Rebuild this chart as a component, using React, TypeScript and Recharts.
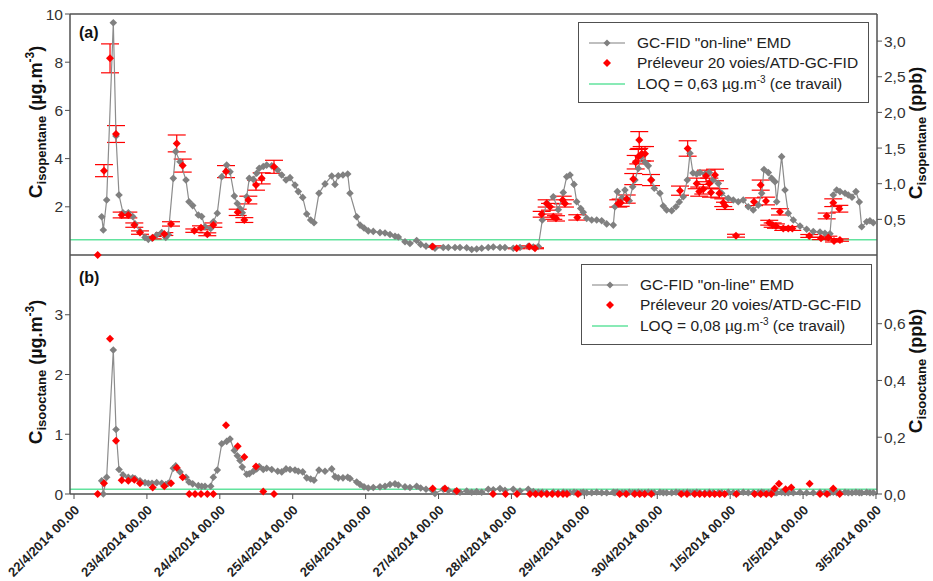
import React from 'react'
import { ComposedChart, Scatter, XAxis, YAxis, ReferenceLine, ErrorBar } from 'recharts'

// x values are days since 22/4/2014 00.00
const dayTicks = [0, 1, 2, 3, 4, 5, 6, 7, 8, 9, 10, 11]
const dayLabels = [
  '22/4/2014 00.00', '23/4/2014 00.00', '24/4/2014 00.00', '25/4/2014 00.00',
  '26/4/2014 00.00', '27/4/2014 00.00', '28/4/2014 00.00', '29/4/2014 00.00',
  '30/4/2014 00.00', '1/5/2014 00.00', '2/5/2014 00.00', '3/5/2014 00.00',
]

// GC-FID "on-line" EMD
const onlineTime = [
  0.380, 0.402, 0.448, 0.539, 0.576, 0.617, 0.672, 0.745, 0.805, 0.837,
  0.905, 0.974, 1.019, 1.070, 1.134, 1.203, 1.258, 1.293, 1.362, 1.395,
  1.454, 1.536, 1.577, 1.628, 1.705, 1.751, 1.797, 1.875, 1.911, 1.965,
  2.026, 2.094, 2.140, 2.199, 2.240, 2.277, 2.308, 2.369, 2.404, 2.459,
  2.506, 2.541, 2.596, 2.643, 2.712, 2.794, 2.849, 2.908, 2.963, 3.031,
  3.076, 3.137, 3.192, 3.246, 3.292, 3.360, 3.443, 3.535, 3.580, 3.625,
  3.689, 3.754, 3.785, 3.877, 3.923, 3.978, 4.036, 4.105, 4.197, 4.266,
  4.334, 4.403, 4.448, 4.540, 4.608, 4.700, 4.755, 4.828, 4.906, 4.951,
  5.065, 5.134, 5.226, 5.294, 5.386, 5.455, 5.523, 5.592, 5.682, 5.751,
  5.843, 5.911, 6.025, 6.117, 6.231, 6.300, 6.368, 6.423, 6.483, 6.574,
  6.642, 6.711, 6.758, 6.803, 6.858, 6.895, 6.950, 6.985, 7.032, 7.101,
  7.169, 7.238, 7.306, 7.397, 7.420, 7.452, 7.516, 7.557, 7.616, 7.663,
  7.694, 7.740, 7.786, 7.832, 7.877, 7.923, 7.959, 8.037, 8.083, 8.129,
  8.198, 8.257, 8.302, 8.357, 8.412, 8.449, 8.490, 8.541, 8.586, 8.654,
  8.714, 8.768, 8.837, 8.884, 8.974, 9.043, 9.111, 9.180, 9.248, 9.317,
  9.386, 9.432, 9.464, 9.523, 9.569, 9.615, 9.638, 9.706, 9.752, 9.797,
  9.866, 9.958, 10.049, 10.140, 10.232, 10.300, 10.369, 10.414, 10.461, 10.506,
  10.575, 10.620, 10.671, 10.725, 10.771, 10.804, 10.872, 10.917, 10.963,
]
const isopentaneOnline = [
  1.59, 1.04, 2.28, 9.64, 4.94, 2.49, 1.75, 1.75, 1.6, 1.29,
  0.98, 0.73, 0.65, 0.7, 0.83, 0.93, 0.73, 0.85, 3.18, 4.29,
  3.87, 3.11, 2.21, 2.05, 1.66, 1.6, 1.17, 1.1, 1.38, 1.73,
  3.25, 3.73, 3.45, 2.45, 2.14, 1.93, 1.75, 2.42, 3.18, 3.14,
  3.39, 3.6, 3.67, 3.73, 3.7, 3.53, 3.32, 3.11, 3.21, 2.9,
  2.63, 2.39, 1.7, 1.45, 1.34, 2.56, 2.95, 3.28, 2.93, 3.29,
  3.32, 3.36, 2.56, 1.59, 1.24, 1.12, 1.0, 0.98, 0.93, 0.91,
  0.85, 0.78, 0.75, 0.55, 0.48, 0.6, 0.44, 0.37, 0.35, 0.28,
  0.31, 0.31, 0.31, 0.31, 0.3, 0.23, 0.25, 0.28, 0.31, 0.33,
  0.31, 0.31, 0.28, 0.31, 0.36, 0.33, 0.35, 1.45, 2.14, 2.42,
  1.88, 2.59, 3.25, 3.32, 2.93, 2.21, 1.93, 1.77, 1.52, 1.45,
  1.45, 1.42, 1.29, 1.24, 2.0, 2.63, 2.36, 2.7, 2.25, 2.83,
  3.11, 3.59, 4.08, 3.85, 3.7, 3.11, 2.77, 2.56, 2.03, 1.87,
  1.84, 2.0, 2.2, 2.42, 3.11, 4.22, 3.4, 3.36, 3.42, 3.36,
  3.42, 3.11, 2.97, 2.56, 2.35, 2.28, 2.21, 2.28, 2.0, 1.87,
  2.07, 2.56, 3.55, 3.42, 3.18, 3.04, 2.21, 4.08, 2.7, 1.73,
  1.45, 1.2, 1.07, 0.97, 0.95, 0.9, 0.88, 2.49, 2.7, 2.63,
  2.56, 2.49, 2.4, 2.63, 2.2, 1.17, 1.38, 1.42, 1.34,
]
const isooctaneOnline = [
  0.22, 0.0, 0.28, 2.41, 1.08, 0.41, 0.32, 0.28, 0.27, 0.26,
  0.22, 0.19, 0.18, 0.18, 0.19, 0.18, 0.16, 0.18, 0.43, 0.47,
  0.37, 0.28, 0.2, 0.17, 0.14, 0.13, 0.13, 0.13, 0.28, 0.4,
  0.84, 0.88, 0.92, 0.73, 0.64, 0.56, 0.45, 0.33, 0.34, 0.38,
  0.42, 0.46, 0.41, 0.43, 0.41, 0.38, 0.37, 0.42, 0.41, 0.4,
  0.38, 0.37, 0.27, 0.25, 0.23, 0.4, 0.38, 0.42, 0.29, 0.27,
  0.27, 0.28, 0.26, 0.2, 0.16, 0.12, 0.1, 0.11, 0.12, 0.13,
  0.16, 0.17, 0.15, 0.12, 0.11, 0.13, 0.1, 0.08, 0.07, 0.01,
  0.08, 0.06, 0.04, 0.03, 0.05, 0.03, 0.04, 0.03, 0.08, 0.07,
  0.09, 0.06, 0.08, 0.05, 0.08, 0.04, 0.03, 0.03, 0.02, 0.03,
  0.02, 0.03, 0.02, 0.02, 0.03, 0.02, 0.02, 0.03, 0.02, 0.02,
  0.03, 0.02, 0.02, 0.03, 0.02, 0.03, 0.02, 0.02, 0.03, 0.02,
  0.02, 0.03, 0.02, 0.02, 0.03, 0.02, 0.02, 0.03, 0.02, 0.02,
  0.02, 0.03, 0.02, 0.02, 0.03, 0.02, 0.02, 0.03, 0.02, 0.02,
  0.03, 0.02, 0.02, 0.02, 0.03, 0.02, 0.02, 0.03, 0.02, 0.02,
  0.02, 0.03, 0.02, 0.02, 0.03, 0.02, 0.02, 0.03, 0.02, 0.02,
  0.02, 0.03, 0.02, 0.02, 0.03, 0.02, 0.02, 0.03, 0.02, 0.02,
  0.03, 0.02, 0.02, 0.03, 0.02, 0.02, 0.03, 0.02, 0.02,
]

// Préleveur 20 voies/ATD-GC-FID, panel (a)
const samplerTimeA = [
  0.325, 0.411, 0.494, 0.576, 0.654, 0.745, 0.827, 0.905, 1.079, 1.239,
  1.330, 1.409, 1.491, 1.650, 1.742, 1.828, 1.911, 2.085, 2.245, 2.336,
  2.391, 2.496, 2.574, 2.743, 4.920, 6.072, 6.245, 6.323, 6.415, 6.483,
  6.529, 6.574, 6.611, 6.703, 6.734, 6.903, 7.465, 7.498, 7.581, 7.671,
  7.704, 7.740, 7.753, 7.786, 7.832, 7.914, 8.312, 8.417, 8.541, 8.576,
  8.631, 8.668, 8.714, 8.737, 8.792, 8.851, 8.905, 8.929, 9.080, 9.327,
  9.419, 9.491, 9.536, 9.583, 9.628, 9.683, 9.728, 9.797, 9.852, 10.085,
  10.246, 10.324, 10.346, 10.414, 10.424, 10.497, 10.506,
]
const isopentaneSampler = [
  0, 3.5, 8.16, 5.02, 1.66, 1.66, 1.24, 0.93, 0.72, 0.87,
  1.29, 4.63, 3.71, 1.01, 1.13, 0.86, 1.24, 3.46, 1.77, 1.45,
  2.28, 2.9, 3.18, 3.66, 0.35, 0.28, 0.35, 0.28, 1.69, 2.14,
  2.0, 1.59, 1.52, 2.28, 2.14, 1.56, 2.14, 2.17, 2.32, 3.15,
  3.85, 4.08, 4.77, 4.2, 4.2, 3.11, 2.67, 4.42, 2.97, 2.63,
  2.73, 3.28, 2.97, 2.59, 3.32, 2.56, 2.17, 2.04, 0.8, 2.21,
  2.9, 2.24, 1.34, 1.24, 1.2, 1.79, 1.1, 1.1, 1.1, 0.79,
  0.69, 1.62, 0.73, 2.17, 0.58, 1.92, 0.62,
]
const isopentaneSamplerErr = [
  0, 0.25, 0.6, 0.35, 0.12, 0.12, 0.09, 0.07, 0.05, 0.06,
  0.09, 0.35, 0.27, 0.07, 0.08, 0.06, 0.09, 0.25, 0.13, 0.1,
  0.16, 0.21, 0.23, 0.27, 0.03, 0.02, 0.03, 0.02, 0.12, 0.15,
  0.14, 0.11, 0.11, 0.16, 0.15, 0.11, 0.15, 0.15, 0.17, 0.23,
  0.28, 0.3, 0.35, 0.3, 0.3, 0.23, 0.19, 0.32, 0.22, 0.19,
  0.2, 0.24, 0.22, 0.19, 0.24, 0.19, 0.16, 0.15, 0.06, 0.16,
  0.21, 0.16, 0.1, 0.09, 0.09, 0.13, 0.08, 0.08, 0.08, 0.06,
  0.05, 0.12, 0.05, 0.16, 0.04, 0.14, 0.05,
]

// Préleveur 20 voies/ATD-GC-FID, panel (b)
const samplerTimeB = [
  0.325, 0.411, 0.494, 0.576, 0.654, 0.745, 0.827, 0.905, 1.079, 1.239,
  1.330, 1.409, 1.491, 1.581, 1.660, 1.742, 1.828, 1.911, 2.085, 2.245,
  2.336, 2.496, 2.596, 2.743, 4.920, 5.088, 5.249, 5.747, 5.918, 6.076,
  6.254, 6.332, 6.409, 6.487, 6.560, 6.638, 6.707, 6.762, 6.913, 7.485,
  7.575, 7.690, 7.759, 7.827, 7.918, 8.329, 8.408, 8.513, 8.582, 8.650,
  8.719, 8.788, 8.856, 8.925, 9.084, 9.336, 9.418, 9.495, 9.564, 9.610,
  9.669, 9.761, 9.838, 10.090, 10.232, 10.328, 10.414, 10.502,
]
const isooctaneSampler = [
  0, 0.18, 2.6, 0.89, 0.23, 0.22, 0.24, 0.18, 0.11, 0.13,
  0.18, 0.44, 0.28, 0, 0, 0, 0, 0, 1.15, 0.8,
  0.62, 0.46, 0.04, 0, 0.09, 0.09, 0.05, 0, 0, 0,
  0, 0, 0, 0, 0, 0, 0, 0, 0, 0,
  0, 0, 0, 0, 0, 0, 0, 0, 0, 0,
  0, 0, 0, 0, 0, 0, 0, 0, 0, 0.09,
  0.17, 0.08, 0.11, 0.17, 0, 0, 0.09, 0,
]

const loqIsopentane = 0.63
const loqIsooctane = 0.08

const onlineA = onlineTime.map((t, i) => ({ t, v: isopentaneOnline[i] }))
const onlineB = onlineTime.map((t, i) => ({ t, v: isooctaneOnline[i] }))
const samplerA = samplerTimeA.map((t, i) => ({ t, v: isopentaneSampler[i], e: isopentaneSamplerErr[i] }))
const samplerB = samplerTimeB.map((t, i) => ({ t, v: isooctaneSampler[i] }))

const FONT = '"Liberation Sans", Arial, sans-serif'
const AXIS = '#505050'
const GREY = '#808080'
const RED = '#ff0000'
const GREEN = '#62e39e'
const xDomain = [-0.055, 11.014]

const comma = (v: number) => v.toFixed(1).replace('.', ',')

const diamond = (fill: string, r: number) => (p: any) => (
  <polygon
    points={`${p.cx},${p.cy - r} ${p.cx + r},${p.cy} ${p.cx},${p.cy + r} ${p.cx - r},${p.cy}`}
    fill={fill}
  />
)

const DayTick = (props: any) => {
  const { x, y, payload } = props
  const label = dayLabels[dayTicks.indexOf(payload.value)]
  const ax = x + 6
  const ay = y + 10
  return (
    <text
      x={ax}
      y={ay}
      textAnchor="end"
      transform={`rotate(-45, ${ax}, ${ay})`}
      fontSize={13}
      fontWeight="bold"
      fontFamily={FONT}
      fill="#222"
    >
      {label}
    </text>
  )
}

const tickStyle = { fill: '#333', fontSize: 15.5, fontFamily: FONT }
const axisLine = { stroke: AXIS, strokeWidth: 1.5 }

function AxisTitle({ x, y, sub, unit }: { x: number; y: number; sub: string; unit: 'mass' | 'ppb' }) {
  return (
    <text
      transform={`translate(${x},${y}) rotate(-90)`}
      textAnchor="middle"
      fontFamily={FONT}
      fontWeight="bold"
      fill="#111"
    >
      <tspan fontSize={19}>C</tspan>
      <tspan fontSize={13} dy={4}>{sub}</tspan>
      {unit === 'mass' ? (
        <>
          <tspan fontSize={18} dy={-4}> (µg.m</tspan>
          <tspan fontSize={12} dy={-8}>-3</tspan>
          <tspan fontSize={18} dy={8}>)</tspan>
        </>
      ) : (
        <tspan fontSize={18} dy={-4}> (ppb)</tspan>
      )}
    </text>
  )
}

function LegendBox({ left, top, loq }: { left: number; top: number; loq: string }) {
  const row = (y: number, symbol: React.ReactNode, text: React.ReactNode) => (
    <div style={{ position: 'absolute', left: 8, top: y, height: 20, display: 'flex', alignItems: 'center' }}>
      <svg width={42} height={12} style={{ display: 'block' }}>{symbol}</svg>
      <span style={{ marginLeft: 8, fontSize: 15.5, fontFamily: FONT, color: '#222', whiteSpace: 'nowrap' }}>{text}</span>
    </div>
  )
  return (
    <div
      style={{
        position: 'absolute', left, top, width: 291, height: 81, boxSizing: 'border-box',
        border: `1.5px solid ${AXIS}`, background: '#fff',
      }}
    >
      {row(
        10,
        <>
          <line x1={2} y1={6} x2={38} y2={6} stroke={GREY} strokeWidth={1.2} />
          <polygon points="20,2.5 23.5,6 20,9.5 16.5,6" fill={GREY} />
        </>,
        'GC-FID "on-line" EMD',
      )}
      {row(30, <polygon points="20,2 24,6 20,10 16,6" fill={RED} />, 'Préleveur 20 voies/ATD-GC-FID')}
      {row(
        51,
        <line x1={2} y1={6} x2={38} y2={6} stroke={GREEN} strokeWidth={1.5} />,
        <>
          LOQ = {loq} µg.m<sup style={{ fontSize: 10 }}>-3</sup> (ce travail)
        </>,
      )}
    </div>
  )
}

export default function App() {
  return (
    <div style={{ position: 'absolute', left: 0, top: 0, width: 933, height: 581, background: '#fff' }}>
      {/* panel (a) : isopentane */}
      <div style={{ position: 'absolute', left: 0, top: 0 }}>
        <ComposedChart width={933} height={275} margin={{ top: 14, right: 0, bottom: 19, left: 0 }}>
          <XAxis
            type="number"
            dataKey="t"
            domain={xDomain}
            ticks={dayTicks}
            tick={false}
            tickLine={false}
            axisLine={axisLine}
            height={1}
          />
          <YAxis
            yAxisId="left"
            type="number"
            dataKey="v"
            domain={[0, 10]}
            ticks={[2, 4, 6, 8, 10]}
            width={70}
            tick={tickStyle}
            tickSize={5}
            tickMargin={2}
            axisLine={axisLine}
            tickLine={{ stroke: AXIS }}
          />
          <YAxis
            yAxisId="right"
            orientation="right"
            type="number"
            domain={[0, 3.38]}
            ticks={[0.5, 1, 1.5, 2, 2.5, 3]}
            tickFormatter={comma}
            allowDataOverflow
            width={56}
            tick={tickStyle}
            tickSize={5}
            tickMargin={2}
            axisLine={axisLine}
            tickLine={{ stroke: AXIS }}
          />
          <ReferenceLine yAxisId="left" y={10} stroke={AXIS} strokeWidth={1.5} />
          <ReferenceLine yAxisId="left" y={loqIsopentane} stroke={GREEN} strokeWidth={1.5} />
          <Scatter
            yAxisId="left"
            data={onlineA}
            dataKey="v"
            line={{ stroke: '#8c8c8c', strokeWidth: 1.2 }}
            shape={diamond(GREY, 3.8)}
            isAnimationActive={false}
          />
          <Scatter yAxisId="left" data={samplerA} dataKey="v" shape={diamond(RED, 4)} isAnimationActive={false}>
            <ErrorBar dataKey="e" direction="y" width={9} stroke={RED} strokeWidth={1.2} />
          </Scatter>
        </ComposedChart>
      </div>

      {/* panel (b) : isooctane */}
      <div style={{ position: 'absolute', left: 0, top: 255 }}>
        <ComposedChart width={933} height={326} margin={{ top: 0, right: 0, bottom: 0, left: 0 }}>
          <XAxis
            type="number"
            dataKey="t"
            domain={xDomain}
            ticks={dayTicks}
            tick={<DayTick />}
            tickSize={5}
            tickLine={{ stroke: AXIS }}
            axisLine={axisLine}
            height={87}
            interval={0}
          />
          <YAxis
            yAxisId="left"
            type="number"
            dataKey="v"
            domain={[0, 4]}
            ticks={[0, 1, 2, 3]}
            width={70}
            tick={tickStyle}
            tickSize={5}
            tickMargin={2}
            axisLine={axisLine}
            tickLine={{ stroke: AXIS }}
          />
          <YAxis
            yAxisId="right"
            orientation="right"
            type="number"
            domain={[0, 0.842]}
            ticks={[0, 0.2, 0.4, 0.6]}
            tickFormatter={comma}
            allowDataOverflow
            width={56}
            tick={tickStyle}
            tickSize={5}
            tickMargin={2}
            axisLine={axisLine}
            tickLine={{ stroke: AXIS }}
          />
          <ReferenceLine yAxisId="left" y={loqIsooctane} stroke={GREEN} strokeWidth={1.5} />
          <Scatter
            yAxisId="left"
            data={onlineB}
            dataKey="v"
            line={{ stroke: '#8c8c8c', strokeWidth: 1.2 }}
            shape={diamond(GREY, 3.8)}
            isAnimationActive={false}
          />
          <Scatter yAxisId="left" data={samplerB} dataKey="v" shape={diamond(RED, 4)} isAnimationActive={false} />
        </ComposedChart>
      </div>

      {/* titles and panel labels */}
      <svg width={933} height={581} style={{ position: 'absolute', left: 0, top: 0, pointerEvents: 'none' }}>
        <AxisTitle x={42} y={122} sub="isopentane" unit="mass" />
        <AxisTitle x={42} y={372} sub="isooctane" unit="mass" />
        <AxisTitle x={922} y={133} sub="isopentane" unit="ppb" />
        <AxisTitle x={922} y={371} sub="isooctane" unit="ppb" />
        <text x={79} y={38} fontSize={16} fontWeight="bold" fontFamily={FONT} fill="#111">(a)</text>
        <text x={79} y={283} fontSize={16} fontWeight="bold" fontFamily={FONT} fill="#111">(b)</text>
      </svg>

      <LegendBox left={578} top={22} loq="0,63" />
      <LegendBox left={581} top={264} loq="0,08" />
    </div>
  )
}
